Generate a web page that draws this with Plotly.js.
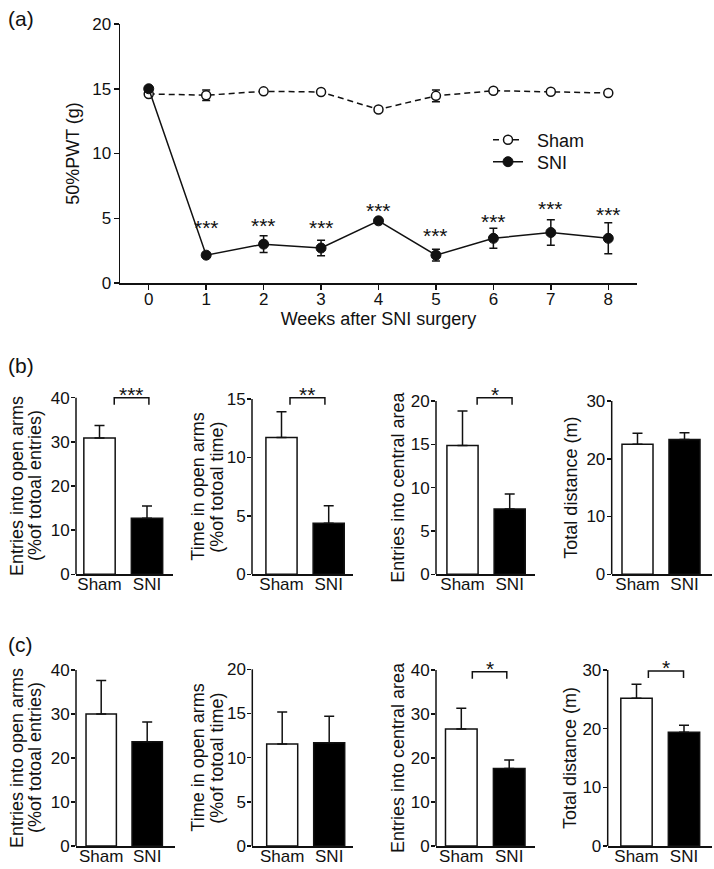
<!DOCTYPE html>
<html><head><meta charset="utf-8">
<script src="https://cdn.plot.ly/plotly-3.0.1.min.js"></script>
<style>html,body{margin:0;padding:0;background:#fff}</style>
</head><body><div id="chart" style="width:714px;height:869px"></div>
<script>
// ---------- Panel (a) data ----------
const weeks = [0, 1, 2, 3, 4, 5, 6, 7, 8];
const shamPWT = [14.6, 14.5, 14.8, 14.75, 13.4, 14.45, 14.85, 14.77, 14.67];
const shamPWTErr = [0.15, 0.4, 0.1, 0.1, 0.1, 0.45, 0.1, 0.1, 0.1];
const sniPWT = [15.0, 2.15, 3.0, 2.7, 4.8, 2.15, 3.45, 3.9, 3.45];
const sniPWTErr = [0.1, 0.1, 0.64, 0.6, 0.12, 0.45, 0.77, 0.98, 1.2];
const sniStars = ['', '***', '***', '***', '***', '***', '***', '***', '***'];
const sniStarY = [null, 4.63, 4.73, 4.56, 5.9, 3.96, 5.07, 6.07, 5.58];

// ---------- Panels (b) and (c) data ----------
const groups = ['Sham', 'SNI'];
const bEntriesOpen = [30.9, 12.7],  bEntriesOpenErr = [2.8, 2.75];
const bTimeOpen = [11.7, 4.37],     bTimeOpenErr = [2.2, 1.5];
const bCentral = [14.85, 7.54],     bCentralErr = [4.0, 1.73];
const bDistance = [22.5, 23.35],    bDistanceErr = [1.9, 1.15];
const cEntriesOpen = [30.0, 23.7],  cEntriesOpenErr = [7.6, 4.5];
const cTimeOpen = [11.54, 11.69],   cTimeOpenErr = [3.62, 3.0];
const cCentral = [26.6, 17.6],      cCentralErr = [4.7, 1.95];
const cDistance = [25.2, 19.4],     cDistanceErr = [2.35, 1.2];
const bSig = ['***', '**', '*', ''];
const cSig = ['', '', '*', '*'];
const titleEntriesOpen = ['Entries into open arms', '(%of totoal entries)'];
const titleTimeOpen = ['Time in open arms', '(%of totoal time)'];
const titleCentral = ['Entries into central area'];
const titleDistance = ['Total distance (m)'];

const FONT = 'Liberation Sans, Arial, Helvetica, sans-serif';
const W = 714, H = 869;
const fx = p => p / W;
const fy = p => 1 - p / H;
const LW = 1.5;
const INK = '#111';

const traces = [];
const shapes = [];
const annotations = [];
const legendBase = {xanchor: 'left', yanchor: 'middle', bgcolor: 'rgba(0,0,0,0)',
                    font: {size: 18, family: FONT, color: INK}, itemwidth: 30, borderwidth: 0};
const layout = {
  width: W, height: H,
  margin: {l: 0, r: 0, t: 0, b: 0},
  paper_bgcolor: '#fff', plot_bgcolor: '#fff',
  font: {family: FONT, color: INK, size: 16},
  showlegend: true,
  legend: Object.assign({x: fx(488), y: fy(140)}, legendBase),
  legend2: Object.assign({x: fx(488), y: fy(162)}, legendBase),
};

// ---------- Panel (a) ----------
traces.push({
  type: 'scatter', mode: 'lines+markers', name: '\u2002Sham', x: weeks, y: shamPWT,
  xaxis: 'x', yaxis: 'y', legend: 'legend',
  line: {color: INK, width: LW, dash: '6px,4px'},
  marker: {symbol: 'circle', size: 9, color: '#fff', line: {color: INK, width: LW}},
  error_y: {type: 'data', array: shamPWTErr, color: INK, thickness: LW, width: 4},
  cliponaxis: false
});
traces.push({
  type: 'scatter', mode: 'lines+markers', name: '\u2002SNI', x: weeks, y: sniPWT,
  xaxis: 'x', yaxis: 'y', legend: 'legend2',
  line: {color: INK, width: LW},
  marker: {symbol: 'circle', size: 10, color: INK, line: {color: INK, width: 1}},
  error_y: {type: 'data', array: sniPWTErr, color: INK, thickness: LW, width: 4},
  cliponaxis: false
});
layout.xaxis = {
  domain: [fx(120), fx(637)], range: [-0.5, 8.5], anchor: 'y',
  tickvals: weeks, ticks: 'outside', ticklen: 5, tickwidth: LW, tickcolor: INK,
  ticklabelstandoff: -5,
  showline: true, linewidth: LW, linecolor: INK, showgrid: false, zeroline: false,
  tickfont: {size: 17}, fixedrange: true,
  title: {text: 'Weeks after SNI surgery', font: {size: 18}, standoff: 0}
};
layout.yaxis = {
  domain: [fy(283), fy(24)], range: [0, 20], dtick: 5, anchor: 'x',
  ticks: 'outside', ticklen: 5, tickwidth: LW, tickcolor: INK, ticklabelstandoff: -1,
  showline: true, linewidth: LW, linecolor: INK, showgrid: false, zeroline: false,
  tickfont: {size: 17}, fixedrange: true,
  title: {text: '50%PWT (g)', font: {size: 18}, standoff: 8}
};
weeks.forEach((w, i) => {
  if (!sniStars[i]) return;
  annotations.push({xref: 'x', yref: 'y', x: w, y: sniStarY[i], text: sniStars[i],
    showarrow: false, yanchor: 'middle', yshift: -4, font: {size: 21}});
});

// ---------- Bar panels ----------
// g: [xl, xr, center0, center1, yZeroPx, yTopTickPx]; tx: title line x positions (px)
const barPanels = [
  {vals: bEntriesOpen, errs: bEntriesOpenErr, ymax: 40, dtick: 10, title: titleEntriesOpen, sig: bSig[0], g: [76, 173, 99.5, 147, 574.3, 397.7], br: [0.31, 1.04], tx: [17, 35], bt: 397.7},
  {vals: bTimeOpen, errs: bTimeOpenErr, ymax: 15, dtick: 5, title: titleTimeOpen, sig: bSig[1], g: [252, 353, 281.5, 328.7, 574.3, 399], br: [0.18, 0.92], tx: [198, 217], bt: 397.7},
  {vals: bCentral, errs: bCentralErr, ymax: 20, dtick: 5, title: titleCentral, sig: bSig[2], g: [436, 535, 462.5, 509.7, 574.3, 401], br: [0.31, 1.05], tx: [398], bt: 397.7},
  {vals: bDistance, errs: bDistanceErr, ymax: 30, dtick: 10, title: titleDistance, sig: bSig[3], g: [611.7, 712, 637.5, 684.5, 574.3, 401], br: [0.25, 1.0], tx: [571], bt: 397.7},
  {vals: cEntriesOpen, errs: cEntriesOpenErr, ymax: 40, dtick: 10, title: titleEntriesOpen, sig: cSig[0], g: [76, 175, 101.2, 147.2, 846, 670], br: [0.25, 1.0], tx: [17, 35], bt: 671.5},
  {vals: cTimeOpen, errs: cTimeOpenErr, ymax: 20, dtick: 5, title: titleTimeOpen, sig: cSig[1], g: [252.3, 353, 282.2, 329.2, 846, 669.3], br: [0.25, 1.0], tx: [198, 217], bt: 671.5},
  {vals: cCentral, errs: cCentralErr, ymax: 40, dtick: 10, title: titleCentral, sig: cSig[2], g: [436, 535, 461.3, 509.2, 846, 670], br: [0.23, 0.95], tx: [398], bt: 671.7},
  {vals: cDistance, errs: cDistanceErr, ymax: 30, dtick: 10, title: titleDistance, sig: cSig[3], g: [607.7, 712, 636.5, 684, 846, 670], br: [0.25, 0.99], tx: [570], bt: 671},
];

barPanels.forEach((p, k) => {
  const n = k + 2;
  const xa = 'x' + n, ya = 'y' + n;
  const [xl, xr, c0, c1, yb, yt] = p.g;
  const s = c1 - c0;
  const upx = (yb - yt) / p.ymax;          // pixels per unit
  const ext = p.ymax * 1.12;               // extended range for brackets
  const topPx = yb - ext * upx;
  const xs = groups.map((_, i) => i);
  traces.push({
    type: 'bar', x: xs, y: p.vals, xaxis: xa, yaxis: ya, width: 0.66, showlegend: false,
    marker: {color: ['#fff', '#000'], line: {color: INK, width: LW}},
    error_y: {type: 'data', array: p.errs, arrayminus: [0, 0], symmetric: false,
              color: INK, thickness: LW, width: 5}
  });
  layout['xaxis' + n] = {
    domain: [fx(xl), fx(xr)], range: [(xl - c0) / s, (xr - c0) / s], anchor: ya,
    tickvals: xs, ticktext: groups, ticks: '', ticklabelstandoff: -6,
    showline: true, linewidth: LW, linecolor: INK,
    showgrid: false, zeroline: false, tickfont: {size: 17}, fixedrange: true
  };
  layout['yaxis' + n] = {
    domain: [fy(yb), fy(topPx)], range: [0, ext],
    tickvals: Array.from({length: p.ymax / p.dtick + 1}, (_, i) => i * p.dtick),
    anchor: xa, ticks: 'outside', ticklen: 4, tickwidth: LW, tickcolor: INK, ticklabelstandoff: -2,
    showline: false, showgrid: false, zeroline: false, tickfont: {size: 17}, fixedrange: true
  };
  // y axis line ending at the top tick
  shapes.push({type: 'line', xref: xa + ' domain', yref: ya, x0: 0, x1: 0, y0: 0, y1: p.ymax,
               line: {color: INK, width: LW}});
  // y axis title lines
  p.title.forEach((t, j) => {
    annotations.push({xref: 'paper', yref: 'paper', x: fx(p.tx[j]), y: fy((yb + yt) / 2),
      text: t, textangle: -90, showarrow: false, xanchor: 'center', yanchor: 'middle',
      font: {size: 18}});
  });
  if (p.sig) {
    const top = (yb - p.bt) / upx;
    const leg = 7 / upx;
    shapes.push({type: 'path', xref: xa, yref: ya,
      path: `M${p.br[0]},${top - leg} L${p.br[0]},${top} L${p.br[1]},${top} L${p.br[1]},${top - leg}`,
      line: {color: INK, width: LW}});
    annotations.push({xref: xa, yref: ya, x: (p.br[0] + p.br[1]) / 2, y: top, text: p.sig,
      showarrow: false, yanchor: 'bottom', yshift: -10, font: {size: 21}});
  }
});

// panel letters
[['(a)', 16], ['(b)', 363], ['(c)', 642]].forEach(([t, py]) => {
  annotations.push({xref: 'paper', yref: 'paper', x: fx(6), y: fy(py), text: t,
    showarrow: false, xanchor: 'left', yanchor: 'middle', yshift: -2, font: {size: 21}});
});

layout.shapes = shapes;
layout.annotations = annotations;
Plotly.newPlot('chart', traces, layout, {staticPlot: true, displayModeBar: false});
</script></body></html>
